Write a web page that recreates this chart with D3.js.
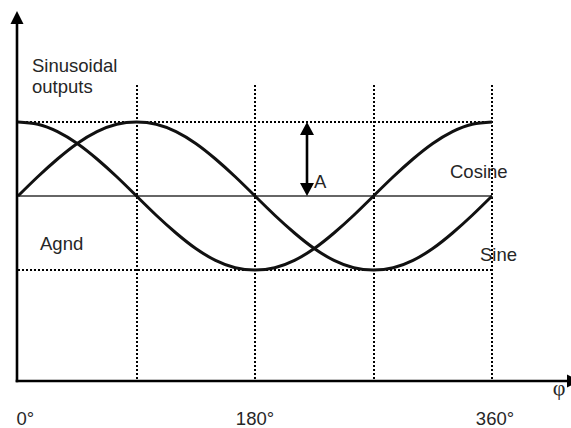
<!DOCTYPE html>
<html>
<head>
<meta charset="utf-8">
<script src="https://cdn.jsdelivr.net/npm/d3@7"></script>
<style>
html,body{margin:0;padding:0;background:#fff;}
svg{display:block;}
text{font-family:"Liberation Sans",Arial,sans-serif;fill:#262626;}
</style>
</head>
<body>
<svg id="chart" width="571" height="428"></svg>
<script>
// ---- data ----
const phase = [0,15,30,45,60,75,90,105,120,135,150,165,180,195,210,225,240,255,270,285,300,315,330,345,360];
const sineValues = [0,0.26,0.5,0.71,0.87,0.97,1,0.97,0.87,0.71,0.5,0.26,0,-0.26,-0.5,-0.71,-0.87,-0.97,-1,-0.97,-0.87,-0.71,-0.5,-0.26,0];
const cosineValues = [1,0.97,0.87,0.71,0.5,0.26,0,-0.26,-0.5,-0.71,-0.87,-0.97,-1,-0.97,-0.87,-0.71,-0.5,-0.26,0,0.26,0.5,0.71,0.87,0.97,1];
const gridPhases = [90,180,270,360];
const levelLines = [1,-1];
const tickValues = [0,180,360];
const tickLabels = ["0°","180°","360°"];
const amplitude = 1;

const svg = d3.select("#chart");
const x = d3.scaleLinear().domain([0,360]).range([18,492]);
const y = d3.scaleLinear().domain([-1,1]).range([270,122]);
const yAxisBottom = -2.5, yAxisTop = 2.5, gridTop = 1.5;

// dotted vertical grid lines
svg.selectAll("line.vgrid").data(gridPhases).join("line")
  .attr("x1",d=>Math.round(x(d))).attr("x2",d=>Math.round(x(d)))
  .attr("y1",Math.round(y(gridTop))).attr("y2",y(yAxisBottom))
  .attr("stroke","#000").attr("stroke-width",2).attr("stroke-dasharray","2,2")
  .attr("shape-rendering","crispEdges");

// dotted horizontal amplitude lines
svg.selectAll("line.hgrid").data(levelLines).join("line")
  .attr("x1",x(0)).attr("x2",x(360))
  .attr("y1",d=>Math.round(y(d))).attr("y2",d=>Math.round(y(d)))
  .attr("stroke","#000").attr("stroke-width",2).attr("stroke-dasharray","2,2")
  .attr("shape-rendering","crispEdges");

// zero (Agnd) line
svg.append("line")
  .attr("x1",x(0)-1).attr("x2",x(360)).attr("y1",y(0)).attr("y2",y(0))
  .attr("stroke","#333").attr("stroke-width",1.6);

// curves
const line = d3.line().curve(d3.curveNatural);
[sineValues,cosineValues].forEach(vals=>{
  svg.append("path")
    .attr("d", line(phase.map((p,i)=>[x(p), y(vals[i])])))
    .attr("fill","none").attr("stroke","#111").attr("stroke-width",3);
});

// axes
const ax0 = x(0)-1, ay0 = y(yAxisBottom);
svg.append("line").attr("x1",ax0).attr("x2",ax0).attr("y1",ay0+1.3).attr("y2",y(yAxisTop)+10)
  .attr("stroke","#000").attr("stroke-width",2.6);
svg.append("path")
  .attr("d",`M${ax0},${y(yAxisTop)} L${ax0-6.5},${y(yAxisTop)+13} L${ax0+6.5},${y(yAxisTop)+13} Z`)
  .attr("fill","#000");
svg.append("line").attr("x1",ax0-1.3).attr("x2",570).attr("y1",ay0).attr("y2",ay0)
  .attr("stroke","#000").attr("stroke-width",2.6);
svg.append("path")
  .attr("d",`M567,${ay0-6.5} L580,${ay0} L567,${ay0+6.5} Z`).attr("fill","#000");

// amplitude arrow
const axA = 307;
svg.append("line").attr("x1",axA).attr("x2",axA).attr("y1",y(amplitude)+10).attr("y2",y(0)-10)
  .attr("stroke","#000").attr("stroke-width",2.6);
svg.append("path")
  .attr("d",`M${axA},${y(amplitude)} L${axA-7},${y(amplitude)+13} L${axA+7},${y(amplitude)+13} Z`).attr("fill","#000");
svg.append("path")
  .attr("d",`M${axA},${y(0)} L${axA-7},${y(0)-13} L${axA+7},${y(0)-13} Z`).attr("fill","#000");

// tick labels
svg.selectAll("text.tick").data(tickValues).join("text")
  .attr("x",(d,i)=> i===0 ? x(d)-1.5 : x(d)+(i===2?3:0))
  .attr("y",425)
  .attr("text-anchor",(d,i)=> i===0 ? "start" : "middle")
  .style("font-size","18.5px")
  .text((d,i)=>tickLabels[i]);

// labels
const labels = [
  {t:"Sinusoidal", x:32, y:72, a:"start"},
  {t:"outputs", x:32, y:93, a:"start"},
  {t:"Agnd", x:40, y:250, a:"start"},
  {t:"Cosine", x:450, y:178, a:"start"},
  {t:"Sine", x:480, y:261, a:"start"},
  {t:"A", x:314, y:188, a:"start"}
];
svg.selectAll("text.lbl").data(labels).join("text")
  .attr("x",d=>d.x).attr("y",d=>d.y).attr("text-anchor",d=>d.a)
  .style("font-size","18.5px").text(d=>d.t);

svg.append("text").attr("x",559).attr("y",395).attr("text-anchor","middle")
  .style("font-family","'Liberation Serif','DejaVu Serif',serif").style("font-size","22px")
  .text("φ");
</script>
</body>
</html>
